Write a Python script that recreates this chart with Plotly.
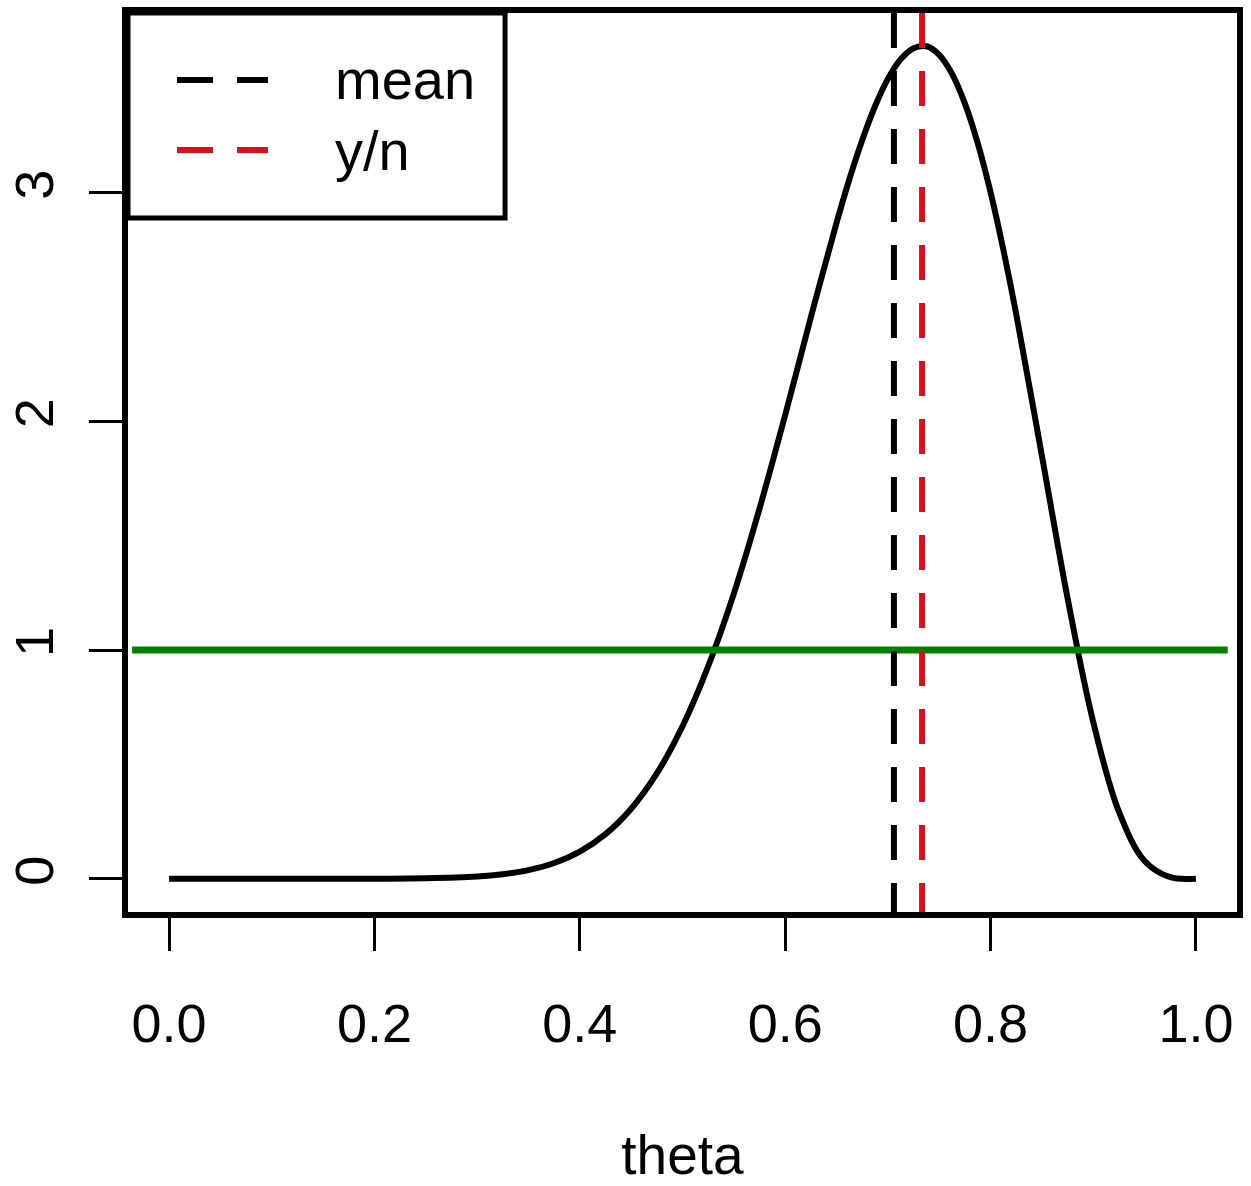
import plotly.graph_objects as go

# ---- data ----
theta = [0.0, 0.05, 0.1, 0.15, 0.2, 0.25, 0.3, 0.325, 0.35, 0.375, 0.4, 0.425, 0.45, 0.475,
         0.5, 0.525, 0.55, 0.575, 0.6, 0.625, 0.65, 0.6625, 0.675, 0.6875, 0.7, 0.7125, 0.725,
         0.7375, 0.75, 0.7625, 0.775, 0.7875, 0.8, 0.8125, 0.825, 0.85, 0.875, 0.9, 0.925,
         0.95, 0.975, 1.0]
density = [0.0, 0.0, 0.0, 0.0, 0.0002, 0.0017, 0.0093, 0.0194, 0.0376, 0.0688, 0.1187, 0.1949,
           0.306, 0.4603, 0.6665, 0.929, 1.247, 1.6185, 2.028, 2.455, 2.868, 3.059, 3.2296,
           3.378, 3.498, 3.5835, 3.632, 3.6404, 3.603, 3.5199, 3.391, 3.2167, 3.002, 2.7496,
           2.4685, 1.850, 1.2273, 0.6854, 0.2931, 0.0776, 0.0065, 0.0]
mean_value = 0.7059
yn_value = 0.7333
prior_level = 1.0
prior_x = [-0.036, 1.031]
x_ticks = [0.0, 0.2, 0.4, 0.6, 0.8, 1.0]
x_tick_labels = ["0.0", "0.2", "0.4", "0.6", "0.8", "1.0"]
y_ticks = [0, 1, 2, 3]
y_tick_labels = ["0", "1", "2", "3"]
legend_labels = ["mean", "y/n"]
legend_colors = ["black", "#D8101E"]

X_RANGE = [-0.04, 1.04]
Y_RANGE = [-0.1456, 3.786]
FONT = "Liberation Sans, Arial, Helvetica, sans-serif"

fig = go.Figure()
fig.add_trace(go.Scatter(x=theta, y=density, mode="lines",
                         line=dict(color="black", width=6, shape="spline", smoothing=1.0),
                         showlegend=False, hoverinfo="skip"))
fig.add_trace(go.Scatter(x=prior_x, y=[prior_level, prior_level], mode="lines",
                         line=dict(color="#008000", width=7), showlegend=False, hoverinfo="skip"))

# vertical dashed lines (drawn from top down)
for xv, col in [(mean_value, legend_colors[0]), (yn_value, legend_colors[1])]:
    fig.add_shape(type="line", xref="x", yref="y", x0=xv, x1=xv, y0=Y_RANGE[1], y1=Y_RANGE[0],
                  line=dict(color=col, width=6, dash="35px,23px"))

# legend box (paper coords = plot area)
fig.add_shape(type="rect", xref="paper", yref="paper", x0=0, x1=0.340, y0=0.772, y1=1.0,
              line=dict(color="black", width=5), fillcolor="white", layer="above")
rows_y = [0.9255, 0.8476]
for lab, col, yy in zip(legend_labels, legend_colors, rows_y):
    fig.add_shape(type="line", xref="paper", yref="paper", x0=0.0442, x1=0.1262, y0=yy, y1=yy,
                  line=dict(color=col, width=6, dash="36px,24px"), layer="above")
    fig.add_annotation(xref="paper", yref="paper", x=0.1849, y=yy, text=lab, showarrow=False,
                       xanchor="left", yanchor="middle", font=dict(family=FONT, size=56, color="black"))

fig.update_layout(
    width=1251, height=1186,
    margin=dict(l=128, r=14, t=13, b=274),
    paper_bgcolor="white", plot_bgcolor="white",
    font=dict(family=FONT, size=54, color="black"),
    xaxis=dict(range=X_RANGE, tickvals=x_ticks, ticktext=x_tick_labels, ticks="outside", ticklen=33,
               tickwidth=2.5, tickcolor="black", showline=True, linewidth=6, linecolor="black", mirror=True,
               showgrid=False, zeroline=False, ticklabelstandoff=26, automargin=False,
               title=dict(text="theta", standoff=91, font=dict(family=FONT, size=55))),
    yaxis=dict(range=Y_RANGE, tickvals=y_ticks, ticktext=y_tick_labels, ticks="outside", ticklen=33,
               tickwidth=2.5, tickcolor="black", showline=True, linewidth=6, linecolor="black", mirror=True,
               showgrid=False, zeroline=False, tickangle=-90, ticklabelstandoff=14, automargin=False),
)

fig.write_html("out.html")
